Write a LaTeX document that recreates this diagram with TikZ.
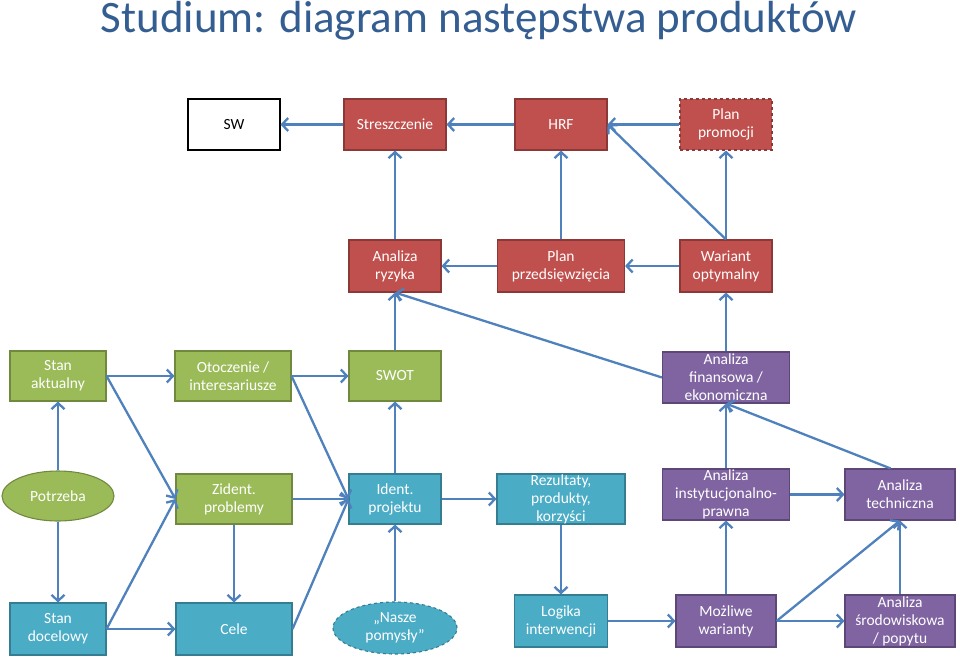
\documentclass[tikz,border=0pt]{standalone}
\usepackage{fontspec}
\setmainfont{Carlito}
\usetikzlibrary{arrows.meta, shapes.geometric, positioning}
\definecolor{czerw}{HTML}{C0504D}
\definecolor{czerwb}{HTML}{8C3836}
\definecolor{ziel}{HTML}{9BBB59}
\definecolor{zielb}{HTML}{71893F}
\definecolor{turk}{HTML}{4BACC6}
\definecolor{turkb}{HTML}{357D91}
\definecolor{fiol}{HTML}{8064A2}
\definecolor{fiolb}{HTML}{5C4776}
\definecolor{strz}{HTML}{4F81BD}
\definecolor{tytul}{HTML}{345E91}

\begin{document}
\begin{tikzpicture}[x=1pt, y=-1pt,
    b/.style={rectangle, minimum height=51, inner sep=0pt, align=center, text=white,
      font=\fontsize{15.5}{18}\selectfont, line width=1.1pt},
    r/.style={b, fill=czerw, draw=czerwb},
    g/.style={b, fill=ziel, draw=zielb},
    t/.style={b, fill=turk, draw=turkb},
    f/.style={b, fill=fiol, draw=fiolb},
    a/.style={draw=strz, line width=2.3pt, -{Straight Barb[length=6pt, width=13pt]}}]
  \useasboundingbox (0,0) rectangle (960,658);
  \node[text=tytul, font=\fontsize{45}{50}\selectfont] (tyt) at (479,21) {Studium: diagram następstwa produktów};

  % rzad 1
  \node[b, fill=white, draw=black, text=black, minimum width=92] (sw) at (234,124.5) {SW};
  \node[r, minimum width=102] (st) at (395,124.5) {Streszczenie};
  \node[r, minimum width=92] (hrf) at (561,124.5) {HRF};
  \node[r, dashed, minimum width=92] (pp) at (726,124.5) {Plan\\promocji};
  % rzad 2
  \node[r, minimum width=92, minimum height=52] (ar) at (395,266) {Analiza\\ryzyka};
  \node[r, minimum width=127, minimum height=52] (pz) at (561,266) {Plan\\przedsięwzięcia};
  \node[r, minimum width=92, minimum height=52] (wo) at (726,266) {Wariant\\optymalny};
  % rzad 3
  \node[g, minimum width=96, minimum height=50] (sa) at (58,376) {Stan\\aktualny};
  \node[g, minimum width=116, minimum height=50] (oi) at (233,376) {Otoczenie /\\interesariusze};
  \node[g, minimum width=92, minimum height=50] (swot) at (395,376) {SWOT};
  \node[f, minimum width=127] (af) at (726,377.5) {Analiza\\finansowa /\\ekonomiczna};
  % rzad 4
  \node[g, ellipse, minimum width=112, minimum height=50] (po) at (58,496) {Potrzeba};
  \node[g, minimum width=116, minimum height=50] (zp) at (234,499) {Zident.\\problemy};
  \node[t, minimum width=92, minimum height=50] (ip) at (395,499) {Ident.\\projektu};
  \node[t, minimum width=128, minimum height=50] (rp) at (561,499) {Rezultaty,\\produkty,\\korzyści};
  \node[f, minimum width=127] (ai) at (726,494.5) {Analiza\\instytucjonalno-\\prawna};
  \node[f, minimum width=110] (at) at (900,494.5) {Analiza\\techniczna};
  % rzad 5
  \node[t, minimum width=96, minimum height=52] (sd) at (58,629) {Stan\\docelowy};
  \node[t, minimum width=116, minimum height=52] (ce) at (234,629) {Cele};
  \node[t, ellipse, dashed, minimum width=124, minimum height=52] (np) at (395,628) {„Nasze\\pomysły”};
  \node[t, minimum width=93, minimum height=52] (li) at (561,621) {Logika\\interwencji};
  \node[f, minimum width=100, minimum height=52] (mw) at (726,621) {Możliwe\\warianty};
  \node[f, minimum width=110, minimum height=52] (as) at (900,621) {Analiza\\środowiskowa\\/ popytu};

  % strzalki
  \foreach \p/\q in {st/sw, hrf/st, pp/hrf, ar/st, pz/hrf, wo/pp, wo.north/hrf.east, wo/pz, pz/ar,
      swot/ar, af.west/ar.south, af/wo, sa/oi, oi/swot, sa.east/zp.west, oi.east/ip.west,
      ip/swot, po/sa, po/sd, sd/ce, sd.east/zp.west, zp/ce, zp/ip, ce.east/ip.west, np/ip,
      ip/rp, rp/li, li/mw, mw/ai, mw.east/at.south, mw/as, as/at, ai/af, ai/at, at.110/af.south}
    \draw[a] (\p) -- (\q);
\end{tikzpicture}
\end{document}
